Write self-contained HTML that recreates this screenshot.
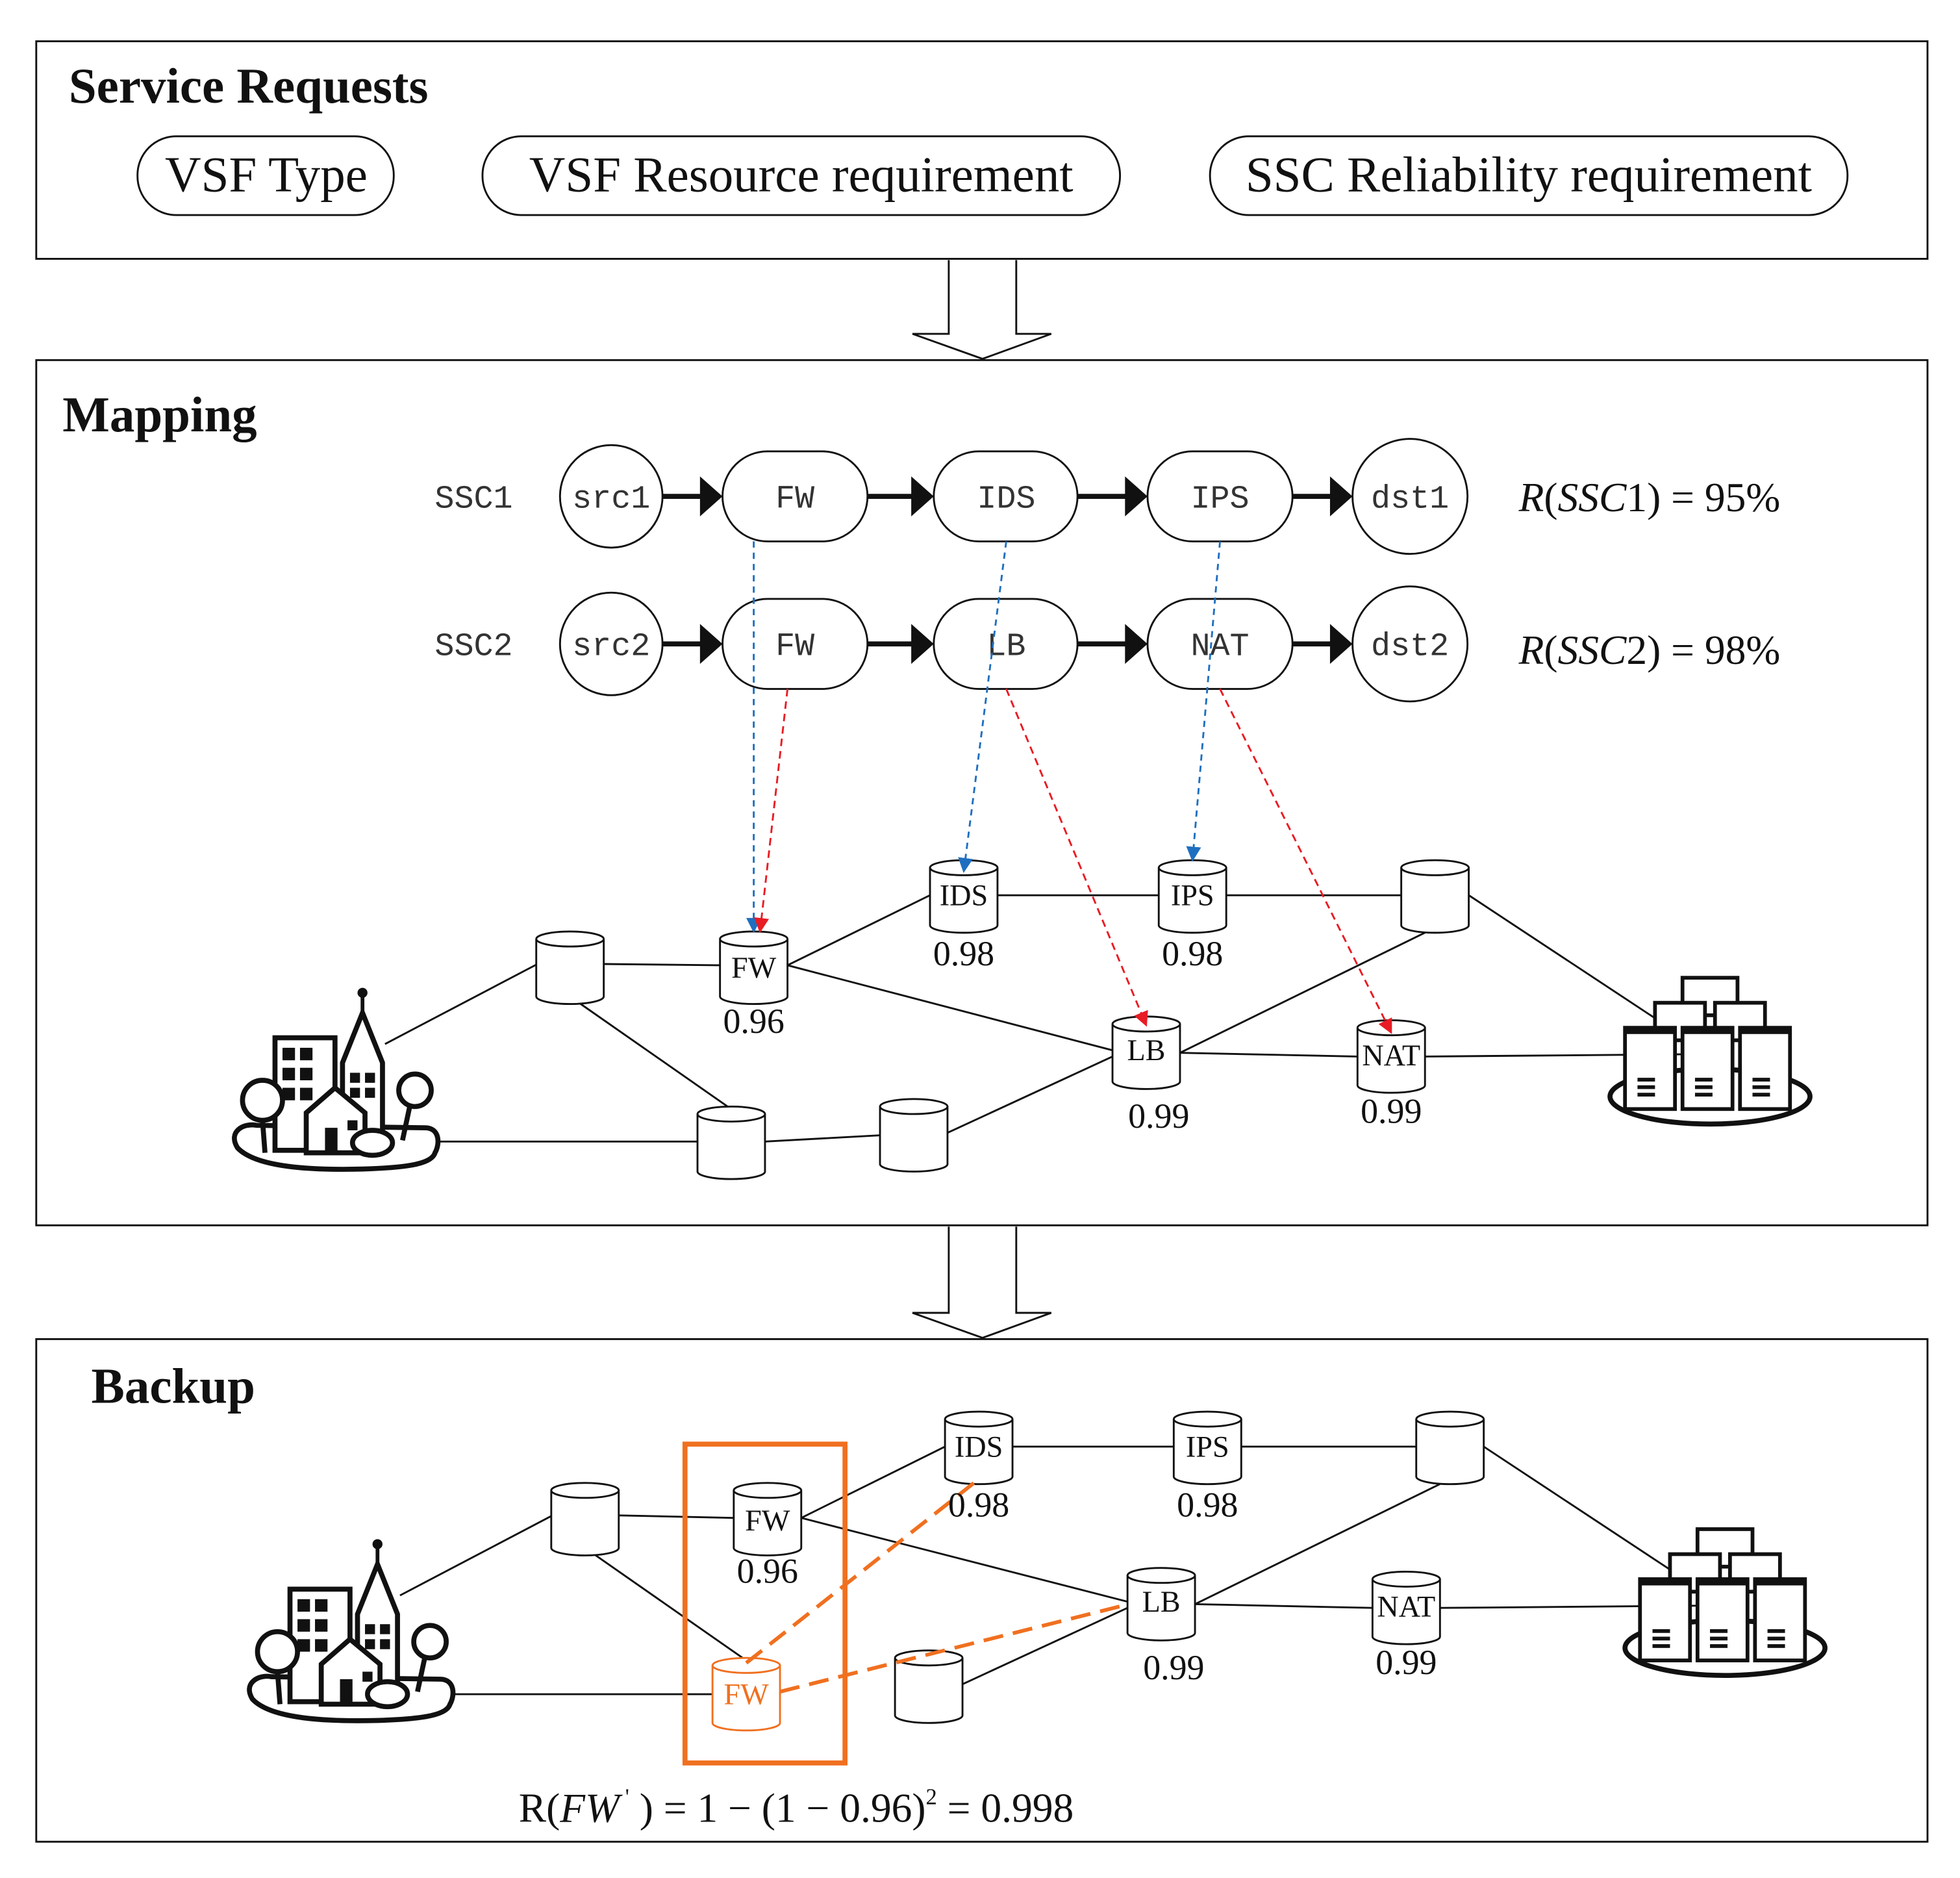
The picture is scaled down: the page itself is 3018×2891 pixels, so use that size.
<!DOCTYPE html>
<html><head><meta charset="utf-8"><style>html,body{margin:0;padding:0;background:#fff}svg{display:block}</style></head><body>
<svg width="3018" height="2891" viewBox="0 0 1568 1502" xmlns="http://www.w3.org/2000/svg" font-family="Liberation Serif, serif">
<defs>
<marker id="ab" viewBox="0 0 10 10" refX="9" refY="5" markerWidth="12" markerHeight="12" orient="auto" markerUnits="userSpaceOnUse"><path d="M0,0L10,5L0,10z" fill="#1f6fc0"/></marker>
<marker id="ar" viewBox="0 0 10 10" refX="9" refY="5" markerWidth="12" markerHeight="12" orient="auto" markerUnits="userSpaceOnUse"><path d="M0,0L10,5L0,10z" fill="#e81c24"/></marker>
<g id="cyl"><path d="M-27,0 V46 A27,6 0 0 0 27,46 V0" fill="#fff" stroke="#111" stroke-width="1.5"/><ellipse cx="0" cy="0" rx="27" ry="6" fill="#fff" stroke="#111" stroke-width="1.5"/></g>
<g id="ocyl"><path d="M-27,0 V46 A27,6 0 0 0 27,46 V0" fill="#fff" stroke="#f07020" stroke-width="1.5"/><ellipse cx="0" cy="0" rx="27" ry="6" fill="#fff" stroke="#f07020" stroke-width="1.5"/></g>
<g id="city">
<path d="M-100,68 C-108,55 -95,48 -85,50 L50,52 C62,52 62,65 58,72 C55,82 30,84 0,85 C-40,86 -85,84 -100,68Z" fill="#fff" stroke="#111" stroke-width="4"/>
<rect x="-70" y="-20" width="48" height="90" fill="#fff" stroke="#111" stroke-width="4"/>
<g fill="#111"><rect x="-64" y="-12" width="10" height="10"/><rect x="-50" y="-12" width="10" height="10"/><rect x="-64" y="4" width="10" height="10"/><rect x="-50" y="4" width="10" height="10"/><rect x="-64" y="20" width="10" height="10"/><rect x="-50" y="20" width="10" height="10"/></g>
<path d="M-16,70 V0 L0,-40 L16,0 V70" fill="#fff" stroke="#111" stroke-width="4"/>
<line x1="0" y1="-40" x2="0" y2="-55" stroke="#111" stroke-width="3"/><circle cx="0" cy="-56" r="4" fill="#111"/>
<g fill="#111"><rect x="-10" y="8" width="8" height="8"/><rect x="2" y="8" width="8" height="8"/><rect x="-10" y="20" width="8" height="8"/><rect x="2" y="20" width="8" height="8"/></g>
<path d="M-45,72 V40 L-22,20 L2,40 V72Z" fill="#fff" stroke="#111" stroke-width="4"/><rect x="-30" y="52" width="10" height="20" fill="#111"/><rect x="-12" y="46" width="8" height="8" fill="#111"/>
<circle cx="-80" cy="30" r="16" fill="#fff" stroke="#111" stroke-width="4"/><line x1="-80" y1="46" x2="-78" y2="72" stroke="#111" stroke-width="4"/>
<circle cx="42" cy="22" r="13" fill="#fff" stroke="#111" stroke-width="4"/><line x1="38" y1="34" x2="32" y2="62" stroke="#111" stroke-width="4"/>
<ellipse cx="8" cy="64" rx="16" ry="10" fill="#fff" stroke="#111" stroke-width="4"/>
</g>
<g id="srv">
<ellipse cx="0" cy="55" rx="80" ry="22" fill="#fff" stroke="#111" stroke-width="4"/>
<g fill="#fff" stroke="#111" stroke-width="3"><rect x="-22" y="-40" width="44" height="30"/><rect x="-44" y="-20" width="40" height="30"/><rect x="4" y="-20" width="40" height="30"/>
<rect x="-68" y="0" width="40" height="65"/><rect x="-22" y="0" width="40" height="65"/><rect x="24" y="0" width="40" height="65"/></g>
<g fill="#111"><rect x="-68" y="0" width="40" height="5"/><rect x="-22" y="0" width="40" height="5"/><rect x="24" y="0" width="40" height="5"/>
<rect x="-58" y="40" width="14" height="3"/><rect x="-58" y="46" width="14" height="3"/><rect x="-58" y="52" width="14" height="3"/>
<rect x="-12" y="40" width="14" height="3"/><rect x="-12" y="46" width="14" height="3"/><rect x="-12" y="52" width="14" height="3"/>
<rect x="34" y="40" width="14" height="3"/><rect x="34" y="46" width="14" height="3"/><rect x="34" y="52" width="14" height="3"/></g>
</g>
</defs>
<rect width="1568" height="1502" fill="#fff"/>
<g fill="none" stroke="#111" stroke-width="1.5">
<rect x="29" y="33" width="1513" height="174"/>
<rect x="29" y="288" width="1513" height="692"/>
<rect x="29" y="1071" width="1513" height="402"/>
<path d="M759,208 V267 H730 L786,287 L841,267 H813 V208" fill="#fff"/>
<path d="M759,981 V1050 H730 L786,1070 L841,1050 H813 V981" fill="#fff"/>
<rect x="110" y="109" width="205" height="63" rx="31"/>
<rect x="386" y="109" width="510" height="63" rx="31"/>
<rect x="968" y="109" width="510" height="63" rx="31"/>
</g>
<g font-weight="bold" font-size="40" fill="#111"><text x="55" y="82">Service Requests</text><text x="50" y="345">Mapping</text><text x="73" y="1122">Backup</text></g>
<g font-size="40" fill="#111" text-anchor="middle"><text x="213" y="153">VSF Type</text><text x="641" y="153">VSF Resource requirement</text><text x="1223" y="153">SSC Reliability requirement</text></g>
<g font-family="Liberation Mono, monospace" font-size="26" fill="#333" text-anchor="middle">
<text x="379" y="406">SSC1</text><text x="379" y="524">SSC2</text>
</g>
<g stroke="#111" stroke-width="1.5" fill="#fff">
<circle cx="489" cy="397" r="41"/><circle cx="1128" cy="397" r="46"/>
<rect x="578" y="361" width="116" height="72" rx="36"/><rect x="747" y="361" width="115" height="72" rx="36"/><rect x="918" y="361" width="116" height="72" rx="36"/>
<circle cx="489" cy="515" r="41"/><circle cx="1128" cy="515" r="46"/>
<rect x="578" y="479" width="116" height="72" rx="36"/><rect x="747" y="479" width="115" height="72" rx="36"/><rect x="918" y="479" width="116" height="72" rx="36"/>
</g>
<g stroke="#111" stroke-width="4">
<line x1="530" y1="397" x2="562" y2="397"/><line x1="694" y1="397" x2="731" y2="397"/><line x1="862" y1="397" x2="902" y2="397"/><line x1="1034" y1="397" x2="1066" y2="397"/>
<line x1="530" y1="515" x2="562" y2="515"/><line x1="694" y1="515" x2="731" y2="515"/><line x1="862" y1="515" x2="902" y2="515"/><line x1="1034" y1="515" x2="1066" y2="515"/>
</g>
<g fill="#111">
<path d="M560,381L578,397L560,413z"/><path d="M729,381L747,397L729,413z"/><path d="M900,381L918,397L900,413z"/><path d="M1064,381L1082,397L1064,413z"/>
<path d="M560,499L578,515L560,531z"/><path d="M729,499L747,515L729,531z"/><path d="M900,499L918,515L900,531z"/><path d="M1064,499L1082,515L1064,531z"/>
</g>
<g font-family="Liberation Mono, monospace" font-size="26" fill="#333" text-anchor="middle">
<text x="489" y="406">src1</text><text x="636" y="406">FW</text><text x="805" y="406">IDS</text><text x="976" y="406">IPS</text><text x="1128" y="406">dst1</text>
<text x="489" y="524">src2</text><text x="636" y="524">FW</text><text x="805" y="524">LB</text><text x="976" y="524">NAT</text><text x="1128" y="524">dst2</text>
</g>
<g font-size="33" fill="#111"><text x="1215" y="409"><tspan font-style="italic">R</tspan>(<tspan font-style="italic">SSC</tspan>1) = 95%</text><text x="1215" y="531"><tspan font-style="italic">R</tspan>(<tspan font-style="italic">SSC</tspan>2) = 98%</text></g>
<g stroke="#111" stroke-width="1.5">
<line x1="308" y1="835" x2="430" y2="771"/><line x1="483" y1="771" x2="576" y2="772"/><line x1="630" y1="772" x2="744" y2="716"/><line x1="630" y1="772" x2="890" y2="840"/>
<line x1="798" y1="716" x2="927" y2="716"/><line x1="981" y1="716" x2="1121" y2="716"/><line x1="1148" y1="742" x2="944" y2="842"/><line x1="944" y1="842" x2="1086" y2="845"/>
<line x1="1140" y1="845" x2="1370" y2="843"/><line x1="1175" y1="716" x2="1325" y2="815"/><line x1="456" y1="797" x2="585" y2="887"/><line x1="340" y1="913" x2="558" y2="913"/>
<line x1="612" y1="913" x2="704" y2="908"/><line x1="758" y1="906" x2="890" y2="845"/>
</g>
<use href="#city" x="290" y="850"/>
<use href="#srv" x="1368" y="822"/>
<use href="#cyl" x="456" y="751"/><use href="#cyl" x="603" y="751"/><use href="#cyl" x="771" y="694"/><use href="#cyl" x="954" y="694"/><use href="#cyl" x="1148" y="694"/>
<use href="#cyl" x="917" y="819"/><use href="#cyl" x="1113" y="822"/><use href="#cyl" x="585" y="891"/><use href="#cyl" x="731" y="885"/>
<g font-size="24" fill="#111" text-anchor="middle">
<text x="603" y="782">FW</text><text x="771" y="724">IDS</text><text x="954" y="724">IPS</text><text x="917" y="848">LB</text><text x="1113" y="852">NAT</text>
</g>
<g font-size="28" fill="#111" text-anchor="middle">
<text x="603" y="826">0.96</text><text x="771" y="772">0.98</text><text x="954" y="772">0.98</text><text x="927" y="902">0.99</text><text x="1113" y="898">0.99</text>
</g>
<g stroke="#1f6fc0" stroke-width="1.5" stroke-dasharray="5,4" fill="none">
<line x1="603" y1="433" x2="603" y2="745" marker-end="url(#ab)"/><line x1="805" y1="433" x2="771" y2="697" marker-end="url(#ab)"/><line x1="976" y1="433" x2="954" y2="688" marker-end="url(#ab)"/>
</g>
<g stroke="#e81c24" stroke-width="1.5" stroke-dasharray="6,4" fill="none">
<line x1="630" y1="551" x2="608" y2="745" marker-end="url(#ar)"/><line x1="805" y1="551" x2="917" y2="820" marker-end="url(#ar)"/><line x1="976" y1="551" x2="1113" y2="826" marker-end="url(#ar)"/>
</g>
<g stroke="#111" stroke-width="1.5">
<line x1="320" y1="1276" x2="442" y2="1212"/><line x1="495" y1="1212" x2="587" y2="1214"/><line x1="641" y1="1214" x2="756" y2="1157"/><line x1="641" y1="1214" x2="902" y2="1281"/>
<line x1="810" y1="1157" x2="939" y2="1157"/><line x1="993" y1="1157" x2="1133" y2="1157"/><line x1="1160" y1="1183" x2="956" y2="1283"/><line x1="956" y1="1283" x2="1098" y2="1286"/>
<line x1="1152" y1="1286" x2="1382" y2="1284"/><line x1="1187" y1="1157" x2="1337" y2="1256"/><line x1="468" y1="1238" x2="597" y2="1328"/><line x1="352" y1="1355" x2="570" y2="1355"/>
<line x1="770" y1="1347" x2="902" y2="1286"/>
</g>
<use href="#city" x="302" y="1291"/>
<use href="#srv" x="1380" y="1263"/>
<use href="#cyl" x="468" y="1192"/><use href="#cyl" x="614" y="1192"/><use href="#cyl" x="783" y="1135"/><use href="#cyl" x="966" y="1135"/><use href="#cyl" x="1160" y="1135"/>
<use href="#cyl" x="929" y="1260"/><use href="#cyl" x="1125" y="1263"/><use href="#cyl" x="743" y="1326"/>
<use href="#ocyl" x="597" y="1332"/>
<g stroke="#f07020" stroke-width="3" stroke-dasharray="16,8" fill="none">
<line x1="597" y1="1330" x2="783" y2="1183"/><line x1="624" y1="1353" x2="903" y2="1283"/>
</g>
<rect x="548" y="1155" width="128" height="255" fill="none" stroke="#f07020" stroke-width="4"/>
<g font-size="24" fill="#111" text-anchor="middle">
<text x="614" y="1224">FW</text><text x="783" y="1165">IDS</text><text x="966" y="1165">IPS</text><text x="929" y="1289">LB</text><text x="1125" y="1293">NAT</text>
<text x="597" y="1363" fill="#f07020">FW</text>
</g>
<g font-size="28" fill="#111" text-anchor="middle">
<text x="614" y="1266">0.96</text><text x="783" y="1213">0.98</text><text x="966" y="1213">0.98</text><text x="939" y="1343">0.99</text><text x="1125" y="1339">0.99</text>
</g>
<text x="415" y="1457" font-size="33" fill="#111">R(<tspan font-style="italic">FW</tspan><tspan font-size="18" dy="-14"> '</tspan><tspan dy="14"> ) = 1 − (1 − 0.96)</tspan><tspan font-size="18" dy="-14">2</tspan><tspan dy="14">  = 0.998</tspan></text>
</svg>
</body></html>
